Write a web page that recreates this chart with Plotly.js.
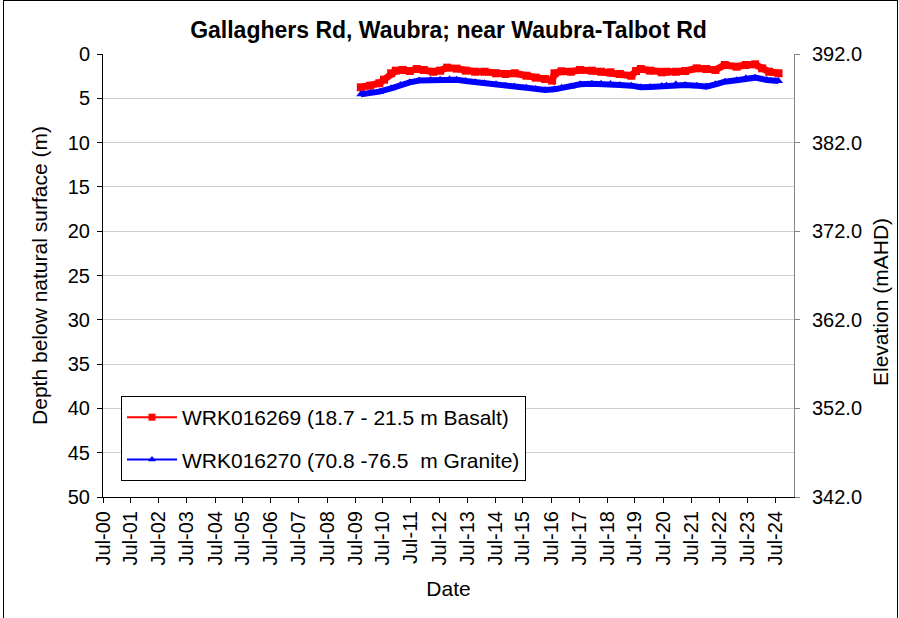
<!DOCTYPE html>
<html><head><meta charset="utf-8">
<script src="https://cdn.plot.ly/plotly-3.0.1.min.js"></script>
<style>
body{margin:0;background:#fff;overflow:hidden}
#frame{position:absolute;left:3px;top:0;width:893px;height:640px;border:1px solid #000;pointer-events:none}
</style>
</head><body>
<div id="chart" style="width:899px;height:618px"></div>
<div id="frame"></div>
<script>
// Series readings (depth below natural surface, m)
const redName = 'WRK016269 (18.7 - 21.5 m Basalt)';
const redDates = ['2009-09-15','2010-01-15','2010-05-15','2010-07-15','2010-10-15','2010-12-15','2011-03-15','2011-06-15','2011-09-15','2011-12-15','2012-04-15','2012-07-15','2012-10-15','2013-02-15','2013-06-15','2013-10-15','2014-02-15','2014-07-15','2014-11-15','2015-03-15','2015-08-15','2015-12-15','2016-04-15','2016-07-15','2016-08-15','2016-11-15','2017-03-15','2017-07-15','2017-12-15','2018-04-15','2018-08-15','2018-12-15','2019-05-15','2019-07-15','2019-09-15','2020-01-15','2020-06-15','2020-08-15','2020-12-15','2021-04-15','2021-09-15','2022-01-15','2022-05-15','2022-09-15','2023-02-15','2023-06-15','2023-10-15','2024-01-15','2024-04-15','2024-08-15'];
const redDepth = [3.76,3.58,3.3,2.9,2.18,1.88,1.8,1.92,1.69,1.8,2.0,1.88,1.54,1.65,1.88,2.0,2.0,2.18,2.26,2.18,2.45,2.67,2.82,3.0,2.18,1.95,2.0,1.8,1.88,2.0,2.07,2.26,2.45,1.92,1.69,1.88,2.07,2.0,2.0,1.92,1.62,1.69,1.8,1.24,1.43,1.24,1.17,1.62,2.0,2.18];

const blueName = 'WRK016270 (70.8 -76.5\u00a0 m Granite)';
const blueDates = ['2009-09-15','2010-01-15','2010-05-15','2010-10-15','2011-02-15','2011-06-15','2011-10-15','2012-03-15','2012-07-15','2012-11-15','2013-02-15','2013-06-15','2013-10-15','2014-02-15','2014-07-15','2014-11-15','2015-03-15','2015-08-15','2015-12-15','2016-04-15','2016-08-15','2016-11-15','2017-03-15','2017-07-15','2017-12-15','2018-04-15','2018-08-15','2018-12-15','2019-05-15','2019-09-15','2020-01-15','2020-06-15','2020-08-15','2020-12-15','2021-04-15','2021-09-15','2022-01-15','2022-05-15','2022-09-15','2023-02-15','2023-06-15','2023-10-15','2024-03-15','2024-08-15'];
const blueDepth = [4.55,4.4,4.25,3.87,3.5,3.2,3.0,2.93,2.9,2.86,2.9,3.05,3.2,3.3,3.42,3.57,3.68,3.8,3.95,4.06,3.99,3.8,3.68,3.42,3.35,3.35,3.38,3.5,3.57,3.76,3.72,3.61,3.55,3.42,3.5,3.57,3.68,3.42,3.13,2.97,2.75,2.67,2.93,3.05];

// Axis ticks
const xTickVals = ['2000-07-01','2001-07-01','2002-07-01','2003-07-01','2004-07-01','2005-07-01','2006-07-01','2007-07-01','2008-07-01','2009-07-01','2010-07-01','2011-07-01','2012-07-01','2013-07-01','2014-07-01','2015-07-01','2016-07-01','2017-07-01','2018-07-01','2019-07-01','2020-07-01','2021-07-01','2022-07-01','2023-07-01','2024-07-01'];
const xTickText = ['Jul-00','Jul-01','Jul-02','Jul-03','Jul-04','Jul-05','Jul-06','Jul-07','Jul-08','Jul-09','Jul-10','Jul-11','Jul-12','Jul-13','Jul-14','Jul-15','Jul-16','Jul-17','Jul-18','Jul-19','Jul-20','Jul-21','Jul-22','Jul-23','Jul-24'];
const depthRange = [50, 0];
const elevRange = [342, 392];

const FONT = 'Liberation Sans, Arial, sans-serif';

const traces = [
  {x: redDates, y: redDepth, type: 'scatter', mode: 'lines+markers', name: redName, showlegend: false,
   line: {color: '#FF0000', width: 7}, marker: {symbol: 'square', size: 8, color: '#FF0000'}},
  {x: blueDates, y: blueDepth, type: 'scatter', mode: 'lines+markers', name: blueName, showlegend: false,
   line: {color: '#0000FF', width: 6}, marker: {symbol: 'triangle-up', size: 8, color: '#0000FF'}},
  {x: [null], y: [null], type: 'scatter', mode: 'lines+markers', name: redName, legendgroup: 'a',
   line: {color: '#FF0000', width: 2}, marker: {symbol: 'square', size: 7, color: '#FF0000'}},
  {x: [null], y: [null], type: 'scatter', mode: 'lines+markers', name: blueName, legendgroup: 'b',
   line: {color: '#0000FF', width: 2}, marker: {symbol: 'triangle-up', size: 7, color: '#0000FF'}}
];

const layout = {
  width: 899, height: 618,
  margin: {l: 103, r: 105, t: 54, b: 121},
  paper_bgcolor: '#fff', plot_bgcolor: '#fff',
  font: {family: FONT, size: 20, color: '#000'},
  title: {text: '<b>Gallaghers Rd, Waubra; near Waubra-Talbot Rd</b>', font: {family: FONT, size: 23, color: '#000'},
          x: 0.5, xanchor: 'center', y: 1 - 30/618, yanchor: 'middle', yref: 'container', xref: 'paper'},
  xaxis: {type: 'date', range: ['2000-07-01', '2025-03-05'], tickmode: 'array', tickvals: xTickVals, ticktext: xTickText,
          tickangle: -90, ticks: 'outside', ticklen: 5, tickcolor: '#000', showline: true, linecolor: '#000', linewidth: 1,
          showgrid: false, zeroline: false, tickfont: {size: 20},
          title: {text: 'Date', font: {size: 21}, standoff: 16}},
  yaxis: {range: depthRange, dtick: 5, tick0: 0, ticks: 'outside', ticklen: 5, tickcolor: '#000',
          showline: true, linecolor: '#000', linewidth: 1, showgrid: true, gridcolor: '#cfcfcf', gridwidth: 1,
          zeroline: false, tickfont: {size: 20}, ticklabelstandoff: 3,
          title: {text: 'Depth below natural surface (m)', font: {size: 21}, standoff: 14}},
  yaxis2: {range: elevRange, dtick: 10, tick0: 342, tickformat: '.1f', overlaying: 'y', side: 'right',
           ticks: 'outside', ticklen: 5, tickcolor: '#868686', showline: true, linecolor: '#868686', linewidth: 1,
           showgrid: false, zeroline: false, tickfont: {size: 20}, ticklabelstandoff: 8},
  annotations: [{text: 'Elevation (mAHD)', xref: 'paper', yref: 'paper', x: (880-103)/691, y: (497-302)/443,
                 xanchor: 'center', yanchor: 'middle', textangle: -90, showarrow: false, font: {size: 21}}],
  legend: {x: (121-103)/691, y: (497-396)/443, xanchor: 'left', yanchor: 'top', bgcolor: '#fff',
           bordercolor: '#000', borderwidth: 1, font: {size: 21}, traceorder: 'grouped', tracegroupgap: 12,
           itemwidth: 50}
};

// dummy trace to anchor right axis
traces.push({x: [null], y: [null], yaxis: 'y2', showlegend: false, hoverinfo: 'skip', type: 'scatter', mode: 'lines'});

Plotly.newPlot('chart', traces, layout, {displayModeBar: false, staticPlot: true});
</script>
</body></html>
